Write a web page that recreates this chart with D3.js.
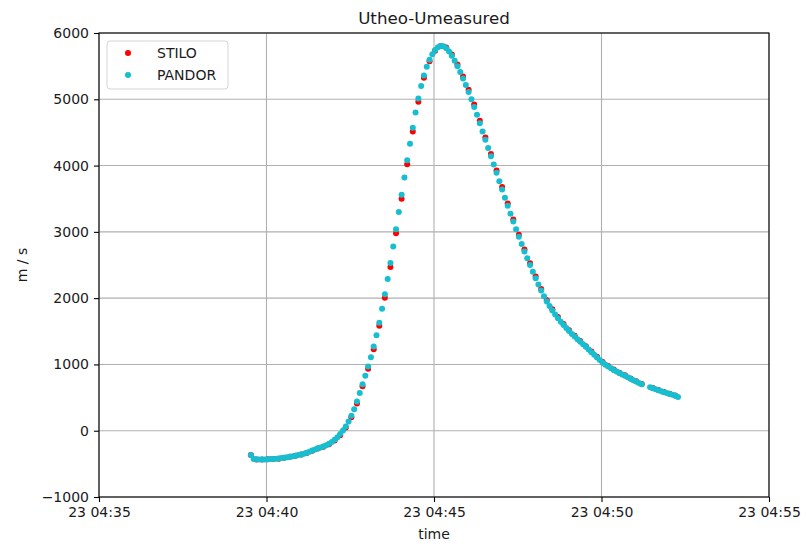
<!DOCTYPE html>
<html>
<head>
<meta charset="utf-8">
<script src="https://d3js.org/d3.v7.min.js"></script>
<style>
	body { margin: 0; background: #fff; }
	text { font-family: "DejaVu Sans", sans-serif; fill: #1a1a1a; }
</style>
</head>
<body>
<div id="chart"></div>
<script type="text/javascript">
// seconds after 23 04:35:00
var pandorTimes = [
	272, 277, 282, 287, 292, 297, 302, 307, 312, 317,
	322, 327, 332, 337, 342, 347, 352, 357, 362, 367,
	372, 377, 382, 387, 392, 397, 402, 407, 412, 417,
	422, 427, 432, 437, 442, 447, 452, 457, 462, 467,
	472, 477, 482, 487, 492, 497, 502, 507, 512, 517,
	522, 527, 532, 537, 542, 547, 552, 557, 562, 567,
	572, 577, 582, 587, 592, 597, 602, 607, 612, 617,
	622, 627, 632, 637, 642, 647, 652, 657, 662, 667,
	672, 677, 682, 687, 692, 697, 702, 707, 712, 717,
	722, 727, 732, 737, 742, 747, 752, 757, 762, 767,
	772, 777, 782, 787, 792, 797, 802, 807, 812, 817,
	822, 827, 832, 837, 842, 847, 852, 857, 862, 867,
	872, 877, 882, 887, 892, 897, 902, 907, 912, 917,
	922, 927, 932, 937, 942, 947, 952, 957, 962, 967,
	972, 987, 992, 997, 1002, 1007, 1012, 1017, 1022, 1027,
	1032, 1037];
var pandorValues = [
	-365, -425, -432, -435, -435, -433, -431, -428, -425, -422,
	-418, -413, -407, -400, -392, -384, -376, -367, -357, -347,
	-334, -318, -300, -282, -266, -252, -238, -220, -198, -170,
	-138, -98, -50, 5, 65, 140, 225, 325, 440, 570,
	700, 830, 970, 1110, 1270, 1440, 1630, 1840, 2060, 2290,
	2530, 2780, 3040, 3300, 3560, 3820, 4080, 4330, 4570, 4800,
	5010, 5200, 5360, 5490, 5595, 5680, 5745, 5785, 5805, 5800,
	5770, 5720, 5655, 5580, 5500, 5410, 5315, 5215, 5110, 5000,
	4885, 4765, 4640, 4515, 4390, 4265, 4140, 4015, 3890, 3765,
	3640, 3515, 3395, 3275, 3155, 3040, 2925, 2815, 2705, 2600,
	2500, 2400, 2300, 2205, 2115, 2030, 1950, 1880, 1815, 1755,
	1698, 1645, 1595, 1548, 1503, 1460, 1420, 1380, 1342, 1305,
	1265, 1225, 1185, 1145, 1105, 1065, 1025, 995, 968, 942,
	916, 892, 870, 849, 829, 805, 783, 762, 741, 720,
	700, 655, 640, 624, 610, 596, 582, 568, 555, 542,
	529, 510];

var stiloTimes = [
	272, 282, 292, 302, 312, 322, 332, 342, 352, 362,
	372, 382, 392, 402, 412, 422, 432, 442, 452, 462,
	472, 482, 492, 502, 512, 522, 532, 542, 552, 562,
	572, 582, 592, 602, 612, 622, 632, 642, 652, 662,
	672, 682, 692, 702, 712, 722, 732, 742, 752, 762,
	772, 782, 792, 802, 812, 822, 832, 842, 852, 862,
	872, 882, 892, 902, 912, 922, 932, 942, 952, 962,
	972, 992, 1002, 1012, 1022, 1032];
var stiloValues = [
	-366, -433, -435, -432, -426, -423, -409, -394, -378, -359,
	-338, -304, -268, -241, -204, -147, -67, 49, 203, 411,
	669, 936, 1230, 1582, 2006, 2471, 2978, 3498, 4019, 4514,
	4962, 5325, 5572, 5732, 5803, 5782, 5675, 5524, 5344, 5142,
	4920, 4675, 4425, 4175, 3925, 3675, 3428, 3187, 2955, 2733,
	2527, 2325, 2138, 1970, 1833, 1714, 1609, 1516, 1432, 1353,
	1276, 1196, 1116, 1035, 976, 923, 876, 835, 789, 747,
	705, 644, 613, 585, 558, 532];

var yTicks = [-1000, 0, 1000, 2000, 3000, 4000, 5000, 6000];
var xTicks = ["04:35", "04:40", "04:45", "04:50", "04:55"];
var seriesNames = ["STILO", "PANDOR"];
var seriesColors = ["#ff0000", "#17becf"];

var W = 806, H = 544;
var mLeft = 99, mRight = 769, mTop = 33, mBottom = 497;

function toDate(sec) {
	return new Date(2000, 0, 23, 4, 35, sec);
}
var parseTick = d3.timeParse("%H:%M");
function tickDate(s) {
	var p = parseTick(s);
	return new Date(2000, 0, 23, p.getHours(), p.getMinutes(), 0);
}

var svg = d3.select("#chart").append("svg")
	.attr("width", W).attr("height", H);

var x = d3.scaleTime()
	.domain([tickDate(xTicks[0]), tickDate(xTicks[xTicks.length - 1])])
	.range([mLeft, mRight]);
var y = d3.scaleLinear()
	.domain([-1000, 6000])
	.range([mBottom, mTop]);

//grid
var xVals = xTicks.map(tickDate);
svg.append("g").selectAll("line").data(xVals).enter().append("line")
	.attr("x1", function(d){ return x(d); }).attr("x2", function(d){ return x(d); })
	.attr("y1", mTop).attr("y2", mBottom)
	.attr("stroke", "#b0b0b0").attr("stroke-width", 1.1);
svg.append("g").selectAll("line").data(yTicks).enter().append("line")
	.attr("x1", mLeft).attr("x2", mRight)
	.attr("y1", function(d){ return y(d); }).attr("y2", function(d){ return y(d); })
	.attr("stroke", "#b0b0b0").attr("stroke-width", 1.1);

//axes
var fmt = d3.timeFormat("%d %H:%M");
var xAxis = svg.append("g")
	.attr("transform", "translate(0," + mBottom + ")")
	.call(d3.axisBottom(x).tickValues(xVals).tickFormat(fmt).tickSize(5).tickPadding(5));
var yAxis = svg.append("g")
	.attr("transform", "translate(" + mLeft + ",0)")
	.call(d3.axisLeft(y).tickValues(yTicks).tickFormat(function(d){ return d < 0 ? "\u2212" + (-d) : d; }).tickSize(5).tickPadding(5));
[xAxis, yAxis].forEach(function(a) {
	a.select(".domain").remove();
	a.selectAll(".tick line").attr("stroke", "#000").attr("stroke-width", 1.1);
	a.selectAll(".tick text").style("font-size", "14px").attr("fill", "#1a1a1a")
		.style("font-family", "'DejaVu Sans', sans-serif");
});

svg.append("rect")
	.attr("x", mLeft).attr("y", mTop)
	.attr("width", mRight - mLeft).attr("height", mBottom - mTop)
	.attr("fill", "none").attr("stroke", "#000").attr("stroke-width", 1.1);

//points
var series = [
	{ name: seriesNames[0], times: stiloTimes, values: stiloValues, color: seriesColors[0] },
	{ name: seriesNames[1], times: pandorTimes, values: pandorValues, color: seriesColors[1] }
];
series.forEach(function(s) {
	var pts = s.times.map(function(t, i){ return [toDate(t), s.values[i]]; });
	svg.append("g").selectAll("circle").data(pts).enter().append("circle")
		.attr("cx", function(d){ return x(d[0]); })
		.attr("cy", function(d){ return y(d[1]); })
		.attr("r", 3)
		.attr("fill", s.color);
});

//labels
svg.append("text")
	.attr("x", (mLeft + mRight) / 2).attr("y", 24)
	.attr("text-anchor", "middle")
	.style("font-size", "16.7px")
	.text("Utheo-Umeasured");
svg.append("text")
	.attr("x", (mLeft + mRight) / 2).attr("y", 539)
	.attr("text-anchor", "middle")
	.style("font-size", "14px")
	.text("time");
svg.append("text")
	.attr("transform", "translate(27," + ((mTop + mBottom) / 2) + ") rotate(-90)")
	.attr("text-anchor", "middle")
	.style("font-size", "14px")
	.text("m / s");

//legend
var leg = svg.append("g");
leg.append("rect")
	.attr("x", 107).attr("y", 41).attr("width", 121).attr("height", 48)
	.attr("rx", 3).attr("fill", "#fff").attr("fill-opacity", 0.8)
	.attr("stroke", "#d5d5d5").attr("stroke-width", 1);
series.forEach(function(s, i) {
	leg.append("circle")
		.attr("cx", 128).attr("cy", 53 + i * 22)
		.attr("r", 3).attr("fill", s.color);
	leg.append("text")
		.attr("x", 157).attr("y", 53 + i * 22)
		.attr("dy", "0.35em")
		.style("font-size", "14px")
		.text(s.name);
});
</script>
</body>
</html>
